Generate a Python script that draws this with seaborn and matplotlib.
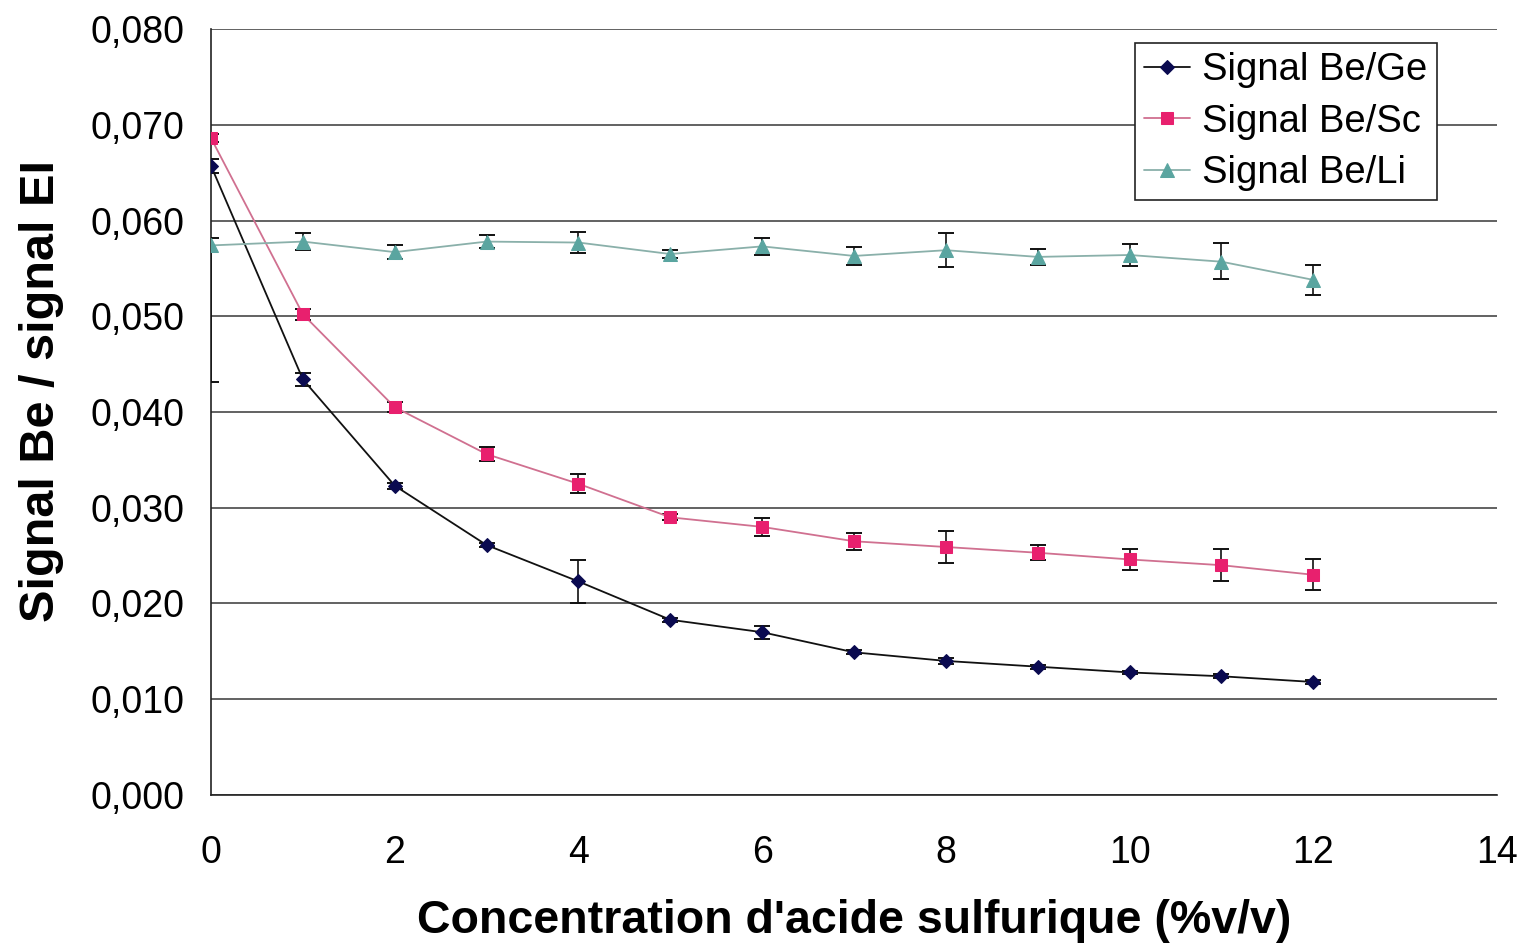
import numpy as np
import pandas as pd
import matplotlib
matplotlib.use("Agg")
import matplotlib.pyplot as plt
from matplotlib.ticker import FuncFormatter
import seaborn as sns

# ── Data ─────────────────────────────────────────────
acid = [0, 1, 2, 3, 4, 5, 6, 7, 8, 9, 10, 11, 12]

be_ge = [0.0657, 0.0434, 0.0323, 0.0261, 0.0223, 0.0183, 0.0170, 0.0149,
         0.0140, 0.0134, 0.0128, 0.0124, 0.0118]
be_ge_err = [0.0007, 0.0007, 0.0003, 0.0002, 0.0022, 0.0002, 0.0007, 0.0002,
             0.0003, 0.0002, 0.0002, 0.0002, 0.0002]

be_sc = [0.0686, 0.0502, 0.0405, 0.0356, 0.0325, 0.0290, 0.0280, 0.0265,
         0.0259, 0.0253, 0.0246, 0.0240, 0.0230]
be_sc_err = [0.0004, 0.0006, 0.0005, 0.0007, 0.0010, 0.0003, 0.0009, 0.0009,
             0.0017, 0.0008, 0.0011, 0.0017, 0.0016]

be_li = [0.0574, 0.0578, 0.0567, 0.0578, 0.0577, 0.0565, 0.0573, 0.0563,
         0.0569, 0.0562, 0.0564, 0.0557, 0.0538]
be_li_err_low = [0.0143, 0.0009, 0.0007, 0.0007, 0.0011, 0.0004, 0.0009, 0.0009,
                 0.0018, 0.0008, 0.0011, 0.0018, 0.0016]
be_li_err_up = [0.0008, 0.0009, 0.0007, 0.0007, 0.0011, 0.0004, 0.0009, 0.0009,
                0.0018, 0.0008, 0.0011, 0.0020, 0.0016]

series = [
    ("Signal Be/Ge", be_ge, [be_ge_err, be_ge_err], "D", "#0a0a50", "#111111", 7),
    ("Signal Be/Sc", be_sc, [be_sc_err, be_sc_err], "s", "#e8206e", "#d07090", 9),
    ("Signal Be/Li", be_li, [be_li_err_low, be_li_err_up], "^", "#5aa5a0", "#8ab0aa", 10),
]

# ── Plot ─────────────────────────────────────────────
sns.set_style("white")
plt.rcParams['font.family'] = ['Liberation Sans', 'DejaVu Sans']
plt.rcParams['text.color'] = 'black'

fig = plt.figure(figsize=(15.24, 9.49), dpi=100)
ax = fig.add_axes([0.1385, 0.1623, 0.9823 - 0.1385, 0.9694 - 0.1623])

for name, vals, err, mk, mcol, lcol, ms in series:
    ax.errorbar(acid, vals, yerr=err, fmt='none', ecolor='#111111',
                elinewidth=1.2, capsize=6, capthick=1.4, zorder=3)
    sns.lineplot(x=acid, y=vals, ax=ax, color=lcol, linewidth=1.3,
                 marker=mk, markersize=ms, markerfacecolor=mcol,
                 markeredgecolor=mcol, label=name, zorder=4)

ax.set_xlim(0, 14)
ax.set_ylim(0, 0.080)
ax.set_xticks(np.arange(0, 15, 2))
ax.set_yticks(np.arange(0, 0.081, 0.010))
ax.yaxis.set_major_formatter(FuncFormatter(lambda v, p: f"{v:.3f}".replace('.', ',')))

ax.yaxis.grid(True, color='#555555', linewidth=1.3)
ax.set_axisbelow(True)
for s in ['top', 'right']:
    ax.spines[s].set_visible(False)
for s in ['left', 'bottom']:
    ax.spines[s].set_color('#222222')
    ax.spines[s].set_linewidth(1.2)

ax.tick_params(axis='both', direction='out', length=9, width=1.1,
               color='#222222', labelcolor='black', labelsize=27, pad=10)
ax.tick_params(axis='x', pad=20)

ax.set_xlabel("Concentration d'acide sulfurique (%v/v)", fontsize=33.5,
              fontweight='bold', labelpad=20, color='black')
ax.set_ylabel("Signal Be / signal EI", fontsize=35, fontweight='bold',
              color='black')
ax.yaxis.set_label_coords(-0.114, 0.527)

leg = ax.legend(loc='upper right', bbox_to_anchor=(0.953, 0.982),
                fontsize=27.5, frameon=True, fancybox=False,
                handlelength=1.2, handletextpad=0.3, borderpad=0.25,
                labelspacing=0.4, borderaxespad=0)
leg.get_frame().set_edgecolor('#222222')
leg.get_frame().set_linewidth(1.2)
leg.get_frame().set_alpha(1)

fig.savefig("out.png", dpi=100)
